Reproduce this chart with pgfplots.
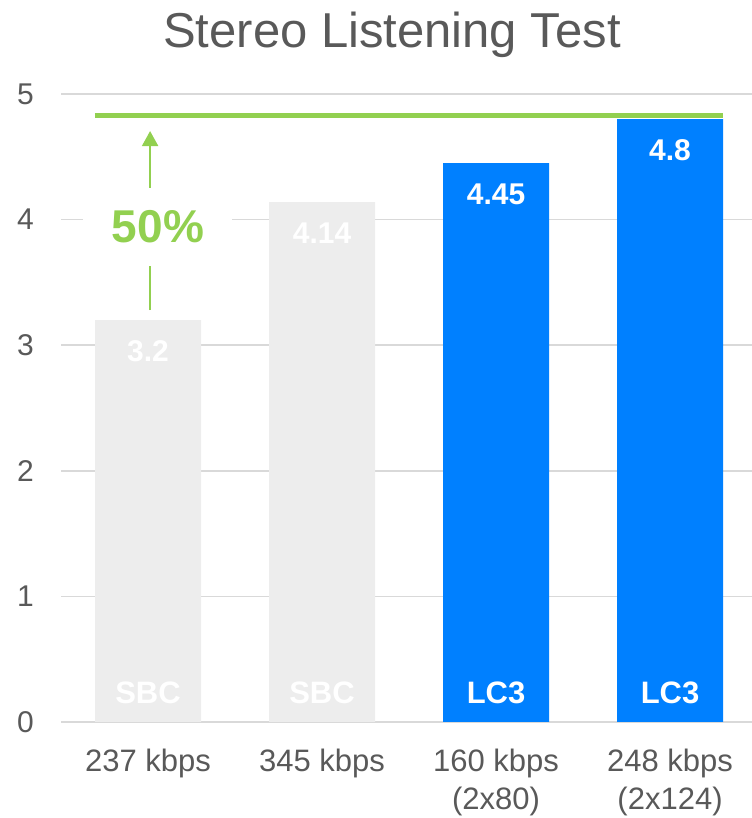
\documentclass[border=0pt]{standalone}
\usepackage{fontspec}
\setmainfont{Liberation Sans}
\usepackage{pgfplots}
\pgfplotsset{compat=1.18}
\usetikzlibrary{arrows.meta}
\definecolor{txt}{HTML}{595959}
\definecolor{sbc}{HTML}{EDEDED}
\definecolor{lc}{HTML}{0080FF}
\definecolor{grn}{HTML}{92D050}
\definecolor{gridc}{HTML}{D9D9D9}
\begin{document}
\begin{tikzpicture}
\useasboundingbox (0,0) rectangle (752bp,818bp);
\node[anchor=base, text=txt, font=\fontsize{49bp}{56bp}\selectfont, inner sep=0] at (392bp,770bp) {Stereo Listening Test};
\begin{axis}[
  at={(61bp,96bp)}, anchor=south west,
  scale only axis, width=691bp, height=628bp,
  xmin=-0.5, xmax=3.471, ymin=0, ymax=5,
  ytick={0,1,2,3,4,5}, xtick={0,1,2,3},
  xticklabels={237 kbps, 345 kbps, {160 kbps\\(2x80)}, {248 kbps\\(2x124)}},
  axis line style={draw=none},
  major tick length=0pt,
  ymajorgrids, major grid style={draw=gridc, line width=1.6bp},
  /pgf/number format/assume math mode=true,
  yticklabel style={font=\fontsize{30bp}{36bp}\selectfont, text=txt, anchor=east, inner sep=0pt, xshift=-27bp},
  xticklabel style={font=\fontsize{31bp}{38bp}\selectfont, text=txt, anchor=north, inner sep=0pt, yshift=-27bp, align=center},
  barlabel/.style={nodes near coords, every node near coord/.append style={anchor=center, yshift=-31bp, font=\bfseries\fontsize{30bp}{36bp}\selectfont, text=white}},
]
\addplot[ybar, bar width=106bp, bar shift=0pt, fill=sbc, draw=none, barlabel] coordinates {(0,3.2) (1,4.14)};
\addplot[ybar, bar width=106bp, bar shift=0pt, fill=lc, draw=none, barlabel] coordinates {(2,4.45) (3,4.8)};
\addplot[grn, line width=5bp, no marks] coordinates {(-0.305,4.825) (3.305,4.825)};
\draw[grn, line width=2bp, -{Triangle[width=16bp,length=15bp]}] (axis cs:0.012,3.28) -- (axis cs:0.012,4.705);
\node[fill=white, minimum width=149bp, minimum height=78bp, inner sep=0, text=grn, font=\bfseries\fontsize{46bp}{52bp}\selectfont] at (axis cs:0.057,3.94) {50\%};
\node[text=white, font=\bfseries\fontsize{31bp}{36bp}\selectfont, inner sep=0] at (axis cs:0,0.23) {SBC};
\node[text=white, font=\bfseries\fontsize{31bp}{36bp}\selectfont, inner sep=0] at (axis cs:1,0.23) {SBC};
\node[text=white, font=\bfseries\fontsize{31bp}{36bp}\selectfont, inner sep=0] at (axis cs:2,0.23) {LC3};
\node[text=white, font=\bfseries\fontsize{31bp}{36bp}\selectfont, inner sep=0] at (axis cs:3,0.23) {LC3};
\end{axis}
\end{tikzpicture}
\end{document}
